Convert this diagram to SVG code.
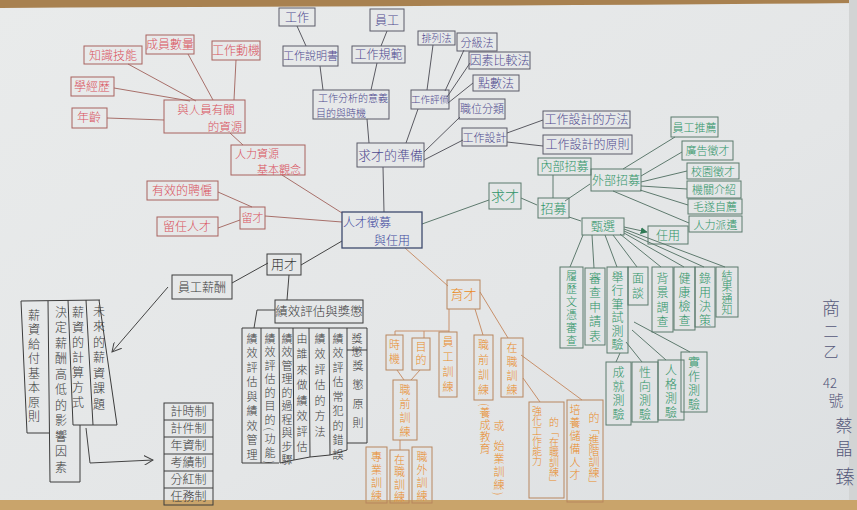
<svg xmlns="http://www.w3.org/2000/svg" width="857" height="510" viewBox="0 0 857 510">
<defs>
<linearGradient id="paper" x1="0" y1="0" x2="1" y2="1">
<stop offset="0" stop-color="#e9ebeb"/>
<stop offset="0.6" stop-color="#e4e6e7"/>
<stop offset="1" stop-color="#dcdfe1"/>
</linearGradient>
<marker id="tri" viewBox="0 0 10 10" refX="9" refY="5" markerWidth="7" markerHeight="7" orient="auto">
<path d="M0,0 L10,5 L0,10 z" fill="#2f7a55"/>
</marker>
<marker id="vee" viewBox="0 0 12 12" refX="11" refY="6" markerWidth="10" markerHeight="10" orient="auto">
<path d="M0,0 L11,6 L0,12" fill="none" stroke="#444" stroke-width="1.2"/>
</marker>
</defs>
<style>
text{font-family:"Noto Sans CJK TC","Noto Sans CJK SC",sans-serif;font-size:12px;font-weight:300;text-anchor:middle}
.v{writing-mode:vertical-rl;text-anchor:start}
.rb{fill:none;stroke:#a8625e;stroke-width:1}
.rt{fill:#d9515c}
.pb{fill:none;stroke:#5b5b68;stroke-width:1}
.pt{fill:#4f4a8f}
.gb{fill:none;stroke:#5b7a6c;stroke-width:1}
.gt{fill:#2f9467}
.ob{fill:none;stroke:#b8865e;stroke-width:1}
.ot{fill:#e98b28}
.kb{fill:none;stroke:#3c3c3c;stroke-width:1}
.kt{fill:#3a3a3a}
.rl{stroke:#a8706a;stroke-width:1;fill:none}
.pl{stroke:#5a5a62;stroke-width:1;fill:none}
.gl{stroke:#5e7a6e;stroke-width:1;fill:none}
.ol{stroke:#c8906a;stroke-width:1;fill:none}
.kl{stroke:#444;stroke-width:1;fill:none}
.sg{fill:#55587a}
</style>
<rect x="0" y="0" width="857" height="510" fill="url(#paper)"/>
<path d="M0,0 H857 V3 Q500,6 0,8 z" fill="#a88150"/>
<rect x="0" y="500" width="857" height="10" fill="#c9a46b"/>
<rect x="849" y="0" width="8" height="500" fill="#d2d4d4"/>

<g id="connectors">
<path class="rl" d="M128,64 L196,101 M188,54 L213,100 M236,60 L234,100 M114,88 L190,101 M107,118 L164,120 M230,133 L243,145 M282,175 L342,213 M218,192 L252,207 M218,228 L240,220 M265,216 L342,222"/>
<path class="pl" d="M297,26 L306,46 M387,31 L381,46 M320,66 L323,90 M377,63 L371,90 M367,119 L369,143 M418,109 L406,143 M433,45 L427,90 M464,50 L445,91 M470,63 L447,97 M473,83 L448,103 M460,117 L424,152 M463,140 L424,160 M507,133 L543,120 M507,142 L543,146 M383,167 L384,212"/>
<path class="gl" d="M489,200 L422,224 M553,175 L553,198 M623,169 L675,137 M641,176 L682,152 M641,182 L687,171 M641,186 L687,189 M640,190 L688,205 M613,191 L689,223 M583,235 L570,267 M592,235 L594,268 M605,235 L617,267 M613,235 L637,267 M620,234 L661,267 M624,233 L684,267 M624,231 L704,267 M624,229 L725,267 M620,353 L616,362 M626,342 L642,362 M632,330 L666,360 M634,322 L690,352"/>
<path class="gl" d="M521,198 L537,205 M565,201 L590,184 M569,217 L581,221 M624,227 L647,232" marker-end="url(#tri)"/>
<path class="kl" d="M301,265 L342,241 M268,263 L232,283 M289,275 L287,300 M275,310 L257,310 L254,328"/>
<path class="kl" d="M168,287 L112,352" marker-end="url(#vee)"/>
<path class="kl" d="M86,428 L90,463 L153,460" marker-end="url(#vee)"/>
<path class="ol" d="M405,248 L448,286 M449,309 L449,332 M395,335 L395,331 L449,331 M424,331 L424,338 M475,309 L483,335 M480,292 L508,338 M397,370 L404,380 M420,370 L411,380 M400,440 L400,450 M523,378 L540,402 M521,355 L582,400"/>
</g>

<!-- red nodes -->
<g id="zhishi"><rect class="rb" x="84" y="46" width="58" height="18"/><text class="rt" x="113" y="59.5">知識技能</text></g>
<g id="chengyuan"><rect class="rb" x="146" y="35" width="48" height="19"/><text class="rt" x="170" y="49">成員數量</text></g>
<g id="dongji"><rect class="rb" x="212" y="41" width="48" height="19"/><text class="rt" x="236" y="55">工作動機</text></g>
<g id="xuejingli"><rect class="rb" x="71" y="77" width="43" height="19"/><text class="rt" x="92" y="91">學經歷</text></g>
<g id="nianling"><rect class="rb" x="72" y="108" width="35" height="20"/><text class="rt" x="89" y="122">年齡</text></g>
<g id="renyuan"><rect class="rb" x="164" y="100" width="81" height="33"/><text class="rt" x="206" y="113.5" style="font-size:11.5px">與人員有關</text><text class="rt" x="225" y="130.5" style="font-size:11.5px">的資源</text></g>
<g id="jiben"><rect class="rb" x="231" y="145" width="74" height="30"/><text class="rt" x="257" y="157.5" style="font-size:11px">人力資源</text><text class="rt" x="279" y="173.5" style="font-size:11px">基本觀念</text></g>
<g id="pinyong"><rect class="rb" x="147" y="181" width="71" height="19"/><text class="rt" x="182" y="195">有效的聘僱</text></g>
<g id="liuren"><rect class="rb" x="157" y="217" width="61" height="19"/><text class="rt" x="187" y="231">留任人才</text></g>
<g id="liucai"><rect class="rb" x="240" y="207" width="25" height="22"/><text class="rt" x="252.5" y="222" style="font-size:11px">留才</text></g>

<!-- purple nodes -->
<g id="gongzuo"><rect class="pb" x="279" y="8" width="36" height="18"/><text class="pt" x="297" y="21.5">工作</text></g>
<g id="yuangong"><rect class="pb" x="370" y="9" width="34" height="22"/><text class="pt" x="387" y="24.5">員工</text></g>
<g id="shuomingshu"><rect class="pb" x="283" y="46" width="55" height="20"/><text class="pt" x="310.5" y="60" style="font-size:11px">工作說明書</text></g>
<g id="guifan"><rect class="pb" x="352" y="46" width="53" height="17"/><text class="pt" x="378.5" y="59">工作規範</text></g>
<g id="yiyi"><rect class="pb" x="313" y="90" width="76" height="29"/><text class="pt" x="353" y="102" style="font-size:10px">工作分析的意義</text><text class="pt" x="341" y="116.5" style="font-size:10px">目的與時機</text></g>
<g id="pailie"><rect class="pb" x="418" y="31" width="37" height="14"/><text class="pt" x="436.5" y="42" style="font-size:10px">排列法</text></g>
<g id="fenji"><rect class="pb" x="457" y="33" width="40" height="18"/><text class="pt" x="477" y="46.5" style="font-size:11px">分級法</text></g>
<g id="yinsu"><rect class="pb" x="469" y="52" width="61" height="17"/><text class="pt" x="499.5" y="65">因素比較法</text></g>
<g id="dianshu"><rect class="pb" x="473" y="75" width="46" height="16"/><text class="pt" x="496" y="87.5">點數法</text></g>
<g id="pingjia"><rect class="pb" x="411" y="90" width="38" height="19"/><text class="pt" x="430" y="103" style="font-size:9.5px">工作評價</text></g>
<g id="zhiwei"><rect class="pb" x="459" y="99" width="46" height="20"/><text class="pt" x="482" y="113" style="font-size:11px">職位分類</text></g>
<g id="sheji"><rect class="pb" x="462" y="128" width="45" height="18"/><text class="pt" x="484.5" y="141.5" style="font-size:11px">工作設計</text></g>
<g id="fangfa"><rect class="pb" x="543" y="111" width="87" height="17"/><text class="pt" x="586.5" y="124">工作設計的方法</text></g>
<g id="yuanze"><rect class="pb" x="543" y="135" width="89" height="19"/><text class="pt" x="587.5" y="149">工作設計的原則</text></g>
<g id="zhunbei"><rect class="pb" x="357" y="143" width="67" height="24"/><text class="pt" x="390.5" y="159.5" style="font-size:13px">求才的準備</text></g>
<g id="center"><rect fill="none" stroke="#3e4a6e" stroke-width="1.3" x="342" y="212" width="80" height="36"/><text x="367" y="226.5" fill="#3f4aa0" style="font-size:12px">人才徵募</text><text x="392" y="244.5" fill="#3f4aa0" style="font-size:12px">與任用</text></g>

<!-- green nodes -->
<g id="qiucai"><rect class="gb" x="489" y="183" width="32" height="26"/><text class="gt" x="505" y="201" style="font-size:14px">求才</text></g>
<g id="zhaomu"><rect class="gb" x="538" y="198" width="31" height="20"/><text class="gt" x="553.5" y="212.5" style="font-size:13px">招募</text></g>
<g id="neibu"><rect class="gb" x="538" y="158" width="53" height="17"/><text class="gt" x="564.5" y="171">內部招募</text></g>
<g id="waibu"><rect class="gb" x="591" y="169" width="50" height="22"/><text class="gt" x="616" y="184.5">外部招募</text></g>
<g id="tuijian"><rect class="gb" x="671" y="117" width="47" height="20"/><text class="gt" x="694.5" y="131.5" style="font-size:11px">員工推薦</text></g>
<g id="guanggao"><rect class="gb" x="682" y="141" width="51" height="19"/><text class="gt" x="707.5" y="155" style="font-size:11px">廣告徵才</text></g>
<g id="xiaoyuan"><rect class="gb" x="687" y="163" width="52" height="16"/><text class="gt" x="713" y="175.5" style="font-size:11px">校園徵才</text></g>
<g id="jieshao"><rect class="gb" x="687" y="181" width="54" height="17"/><text class="gt" x="714" y="194" style="font-size:11px">機關介紹</text></g>
<g id="maosui"><rect class="gb" x="688" y="199" width="54" height="15"/><text class="gt" x="715" y="211" style="font-size:11px">毛遂自薦</text></g>
<g id="paiqian"><rect class="gb" x="689" y="216" width="53" height="16"/><text class="gt" x="715.5" y="228.5" style="font-size:11px">人力派遣</text></g>
<g id="zhenxuan"><rect class="gb" x="582" y="218" width="42" height="17"/><text class="gt" x="603" y="231" style="font-size:12px">甄選</text></g>
<g id="renyong"><rect class="gb" x="648" y="226" width="40" height="18"/><text class="gt" x="668" y="240" style="font-size:12px">任用</text></g>
<g id="wenping"><rect class="gb" x="560" y="267" width="23" height="81"/><text class="gt v" x="571.5" y="270" style="font-size:11px;letter-spacing:2px">履歷文憑審查</text></g>
<g id="shenqing"><rect class="gb" x="585" y="268" width="20" height="77"/><text class="gt v" x="595" y="272" style="letter-spacing:2.5px">審查申請表</text></g>
<g id="bishi"><rect class="gb" x="607" y="267" width="21" height="86"/><text class="gt v" x="617.5" y="271" style="letter-spacing:1.5px">舉行筆試測驗</text></g>
<g id="miantan"><rect class="gb" x="628" y="267" width="20" height="38"/><text class="gt v" x="638" y="272" style="letter-spacing:3px">面談</text></g>
<g id="beijing"><rect class="gb" x="652" y="267" width="21" height="65"/><text class="gt v" x="662.5" y="272" style="letter-spacing:2.5px">背景調查</text></g>
<g id="jiankang"><rect class="gb" x="674" y="267" width="21" height="63"/><text class="gt v" x="684.5" y="272" style="letter-spacing:2px">健康檢查</text></g>
<g id="luyong"><rect class="gb" x="695" y="267" width="20" height="60"/><text class="gt v" x="705" y="272" style="letter-spacing:2px">錄用決策</text></g>
<g id="tongzhi"><rect class="gb" x="716" y="267" width="22" height="50"/><text class="gt v" x="727" y="270" style="font-size:11px;letter-spacing:0.5px">結果通知</text></g>
<g id="chengjiu"><rect class="gb" x="606" y="362" width="25" height="63"/><text class="gt v" x="618.5" y="366" style="letter-spacing:2px">成就測驗</text></g>
<g id="xingxiang"><rect class="gb" x="632" y="362" width="26" height="60"/><text class="gt v" x="645" y="366" style="letter-spacing:2px">性向測驗</text></g>
<g id="renge"><rect class="gb" x="658" y="360" width="26" height="60"/><text class="gt v" x="671" y="364" style="letter-spacing:2px">人格測驗</text></g>
<g id="shizuo"><rect class="gb" x="681" y="352" width="26" height="60"/><text class="gt v" x="694" y="356" style="letter-spacing:2px">實作測驗</text></g>

<!-- black nodes -->
<g id="yongcai"><rect class="kb" x="267" y="254" width="34" height="21"/><text class="kt" x="284" y="269" style="font-size:13px">用才</text></g>
<g id="xinchou"><rect class="kb" x="172" y="275" width="60" height="24"/><text class="kt" x="202" y="291.5">員工薪酬</text></g>
<g id="jixiao"><rect class="kb" x="275" y="300" width="88" height="23"/><text class="kt" x="319" y="316" style="font-size:12.5px">績效評估與獎懲</text></g>
<g id="xinzi-table">
<path class="kb" d="M21,301 L100,300 M21,301 L27,433 L49,433 M48,301 L50,482 L80,482 L80,425 M68,300 L73,425 L117,425 L99,300 M86,300 L93,425"/>
<text class="kt v" x="34" y="309" style="letter-spacing:2.5px">薪資給付基本原則</text>
<text class="kt v" x="61" y="306" style="letter-spacing:3.5px">決定薪酬高低的影響因素</text>
<text class="kt v" x="78" y="306" style="letter-spacing:3px">薪資的計算方式</text>
<text class="kt v" x="99" y="305" style="letter-spacing:3.5px">未來的薪資課題</text>
</g>
<g id="zhidu">
<rect class="kb" x="164" y="403" width="49" height="102"/>
<path class="kb" d="M164,420 H213 M164,437 H213 M164,454 H213 M164,471 H213 M164,488 H213"/>
<text class="kt" x="188.5" y="416">計時制</text>
<text class="kt" x="188.5" y="433">計件制</text>
<text class="kt" x="188.5" y="450">年資制</text>
<text class="kt" x="188.5" y="467">考績制</text>
<text class="kt" x="188.5" y="484">分紅制</text>
<text class="kt" x="188.5" y="501">任務制</text>
</g>
<g id="jixiao-table">
<path class="kb" d="M242,328 H367 M242,328 L242,463 L279,463 M261,328 L261,463 M279,328 L280,463 L294,460 L293,328 M294,460 L310,457 L309,328 M310,457 L330,455 L329,328 M330,455 L347,450 L347,328 M347,350 L367,350 M347,443 L367,443 L367,328"/>
<text class="kt v" x="252" y="333" style="font-size:11px;letter-spacing:3.5px">績效評估與績效管理</text>
<text class="kt v" x="270" y="333" style="font-size:11px;letter-spacing:2.5px">績效評估的目的(功能)</text>
<text class="kt v" x="287" y="333" style="font-size:11px;letter-spacing:2.5px">績效管理的過程與步驟</text>
<text class="kt v" x="302" y="333" style="font-size:11px;letter-spacing:4.5px">由誰來做績效評估</text>
<text class="kt v" x="320" y="333" style="font-size:11px;letter-spacing:4.5px">績效評估的方法</text>
<text class="kt v" x="338" y="333" style="font-size:11px;letter-spacing:3.5px">績效評估常犯的錯誤</text>
<text class="kt v" x="357" y="333" style="font-size:11px;letter-spacing:2px">獎懲</text>
<text class="kt v" x="358" y="360" style="font-size:11px;letter-spacing:8px">獎懲原則</text>
</g>

<!-- orange nodes -->
<g id="yucai"><rect class="ob" x="447" y="280" width="33" height="29"/><text class="ot" x="463.5" y="299" style="font-size:13px">育才</text></g>
<g id="shiji"><rect class="ob" x="386" y="335" width="17" height="35"/><text class="ot v" x="394.5" y="339" style="font-size:11px;letter-spacing:3px">時機</text></g>
<g id="mudi"><rect class="ob" x="412" y="338" width="18" height="32"/><text class="ot v" x="421" y="341" style="font-size:11px;letter-spacing:2px">目的</text></g>
<g id="yuangong-xl"><rect class="ob" x="439" y="332" width="18" height="65"/><text class="ot v" x="448" y="336" style="font-size:11px;letter-spacing:4px">員工訓練</text></g>
<g id="zhiqian"><rect class="ob" x="474" y="335" width="19" height="65"/><text class="ot v" x="483.5" y="339" style="font-size:11px;letter-spacing:4px">職前訓練</text>
<text class="ot v" x="485" y="403" style="font-size:11px;letter-spacing:1px">(養成教育</text>
<text class="ot v" x="499" y="420" style="font-size:11px">或</text>
<text class="ot v" x="499" y="440" style="font-size:11px;letter-spacing:2px">始業訓練)</text></g>
<g id="zaizhi"><rect class="ob" x="501" y="338" width="22" height="59"/><text class="ot v" x="512" y="342" style="font-size:11px;letter-spacing:3px">在職訓練</text></g>
<g id="xunlian-sub"><rect class="ob" x="393" y="380" width="24" height="60"/><text class="ot v" x="405" y="384" style="font-size:11px;letter-spacing:3px">職前訓練</text></g>
<g id="zhuanye"><rect class="ob" x="366" y="447" width="21" height="56"/><text class="ot v" x="376.5" y="451" style="font-size:11px;letter-spacing:2px">專業訓練</text></g>
<g id="zaizhi2"><rect class="ob" x="390" y="450" width="19" height="53"/><text class="ot v" x="399.5" y="454" style="font-size:11px;letter-spacing:1.5px">在職訓練</text></g>
<g id="zhiwai"><rect class="ob" x="412" y="447" width="20" height="56"/><text class="ot v" x="422" y="451" style="font-size:11px;letter-spacing:2px">職外訓練</text></g>
<g id="qianghua"><rect class="ob" x="529" y="402" width="35" height="96"/><text class="ot v" x="537" y="406" style="font-size:10px;letter-spacing:0px">強化工作能力</text><text class="ot v" x="554" y="417" style="font-size:10px;letter-spacing:0px">的「在職訓練」</text></g>
<g id="peiyang"><rect class="ob" x="567" y="400" width="36" height="102"/><text class="ot v" x="575" y="404" style="font-size:11px;letter-spacing:2px">培養儲備人才</text><text class="ot v" x="594" y="412" style="font-size:11px;letter-spacing:0px">的「進階訓練」</text></g>

<!-- signature -->
<g id="signature">
<text class="sg" x="831" y="315" style="font-size:18px">商</text>
<text class="sg" x="831" y="337" style="font-size:15px">二</text>
<text class="sg" x="831" y="357" style="font-size:15px">乙</text>
<text class="sg" x="830" y="388" style="font-size:13px">42</text>
<text class="sg" x="836" y="406" style="font-size:15px">號</text>
<text class="sg" x="844" y="432" style="font-size:17px">蔡</text>
<text class="sg" x="844" y="455" style="font-size:17px">晶</text>
<text class="sg" x="845" y="484" style="font-size:19px">臻</text>
</g>
</svg>
